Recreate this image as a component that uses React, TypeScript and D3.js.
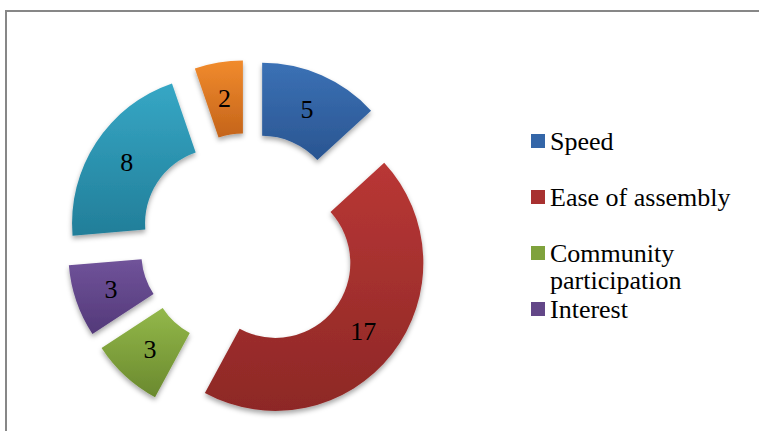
import React from "react";
import * as d3 from "d3";

const categories = ["Speed", "Ease of assembly", "Community participation", "Interest", "Other A", "Other B"];
const values = [5, 17, 3, 3, 8, 2];
const topColors = ["#3B71B5", "#B93735", "#93B84A", "#70539A", "#36A7C5", "#F18B2D"];
const bottomColors = ["#2A5591", "#8D2826", "#6A892E", "#533979", "#227E99", "#C4641A"];
const legendColors = ["#3466A8", "#A83130", "#7FA23C", "#634788"];
const legendLines = [["Speed"], ["Ease of assembly"], ["Community", "participation"], ["Interest"]];

const W = 759;
const H = 431;
const cx = 248.5;
const cy = 242;
const R = 148;
const r = 75;
const explode = 34;
const FONTS = ["'Times New Roman'", "'Liberation Serif'", "Times", "Tinos", "'Noto Serif'", "'DejaVu Serif'", "serif"];
const FONT = FONTS.join(", ");

export default function App() {
  const pie = d3.pie<number>().sort(null).startAngle(0).endAngle(2 * Math.PI);
  const arcs = pie(values);
  const arc = d3.arc<d3.PieArcDatum<number>>().innerRadius(r).outerRadius(R);

  return (
    <svg width={W} height={H} style={{ position: "absolute", left: 0, top: 0, fontFamily: FONT }}>
      <defs>
        {arcs.map((a, i) => (
          <linearGradient key={i} id={`g${i}`} x1="0" y1="0" x2="0" y2="1">
            <stop offset="0" stopColor={topColors[i]} />
            <stop offset="1" stopColor={bottomColors[i]} />
          </linearGradient>
        ))}
        <filter id="sh" x="-20%" y="-20%" width="140%" height="150%">
          <feDropShadow dx="0" dy="3" stdDeviation="2.5" floodColor="#000" floodOpacity="0.35" />
        </filter>
      </defs>
      <rect x={6} y={11} width={900} height={600} fill="#fff" stroke="#878787" strokeWidth={2} />
      <g transform={`translate(${cx},${cy})`}>
        {arcs.map((a, i) => {
          const mid = (a.startAngle + a.endAngle) / 2;
          const dx = Math.sin(mid) * explode;
          const dy = -Math.cos(mid) * explode;
          const [lx, ly] = arc.centroid(a);
          return (
            <g key={i} transform={`translate(${dx},${dy})`}>
              <path d={arc(a) || ""} fill={`url(#g${i})`} filter="url(#sh)" />
              <text x={lx} y={ly + 9} textAnchor="middle" fontSize={26} fill="#000" style={{ fontFamily: FONT }}>
                {values[i]}
              </text>
            </g>
          );
        })}
      </g>
      <g>
        {legendLines.map((lines, i) => {
          const base = 150 + i * 56;
          return (
            <g key={i}>
              <rect x={531} y={base - 16} width={14} height={14} fill={legendColors[i]} />
              {lines.map((t, j) => (
                <text key={j} x={550} y={base + j * 27} fontSize={26} fill="#000" style={{ fontFamily: FONT }}>
                  {t}
                </text>
              ))}
            </g>
          );
        })}
      </g>
    </svg>
  );
}
